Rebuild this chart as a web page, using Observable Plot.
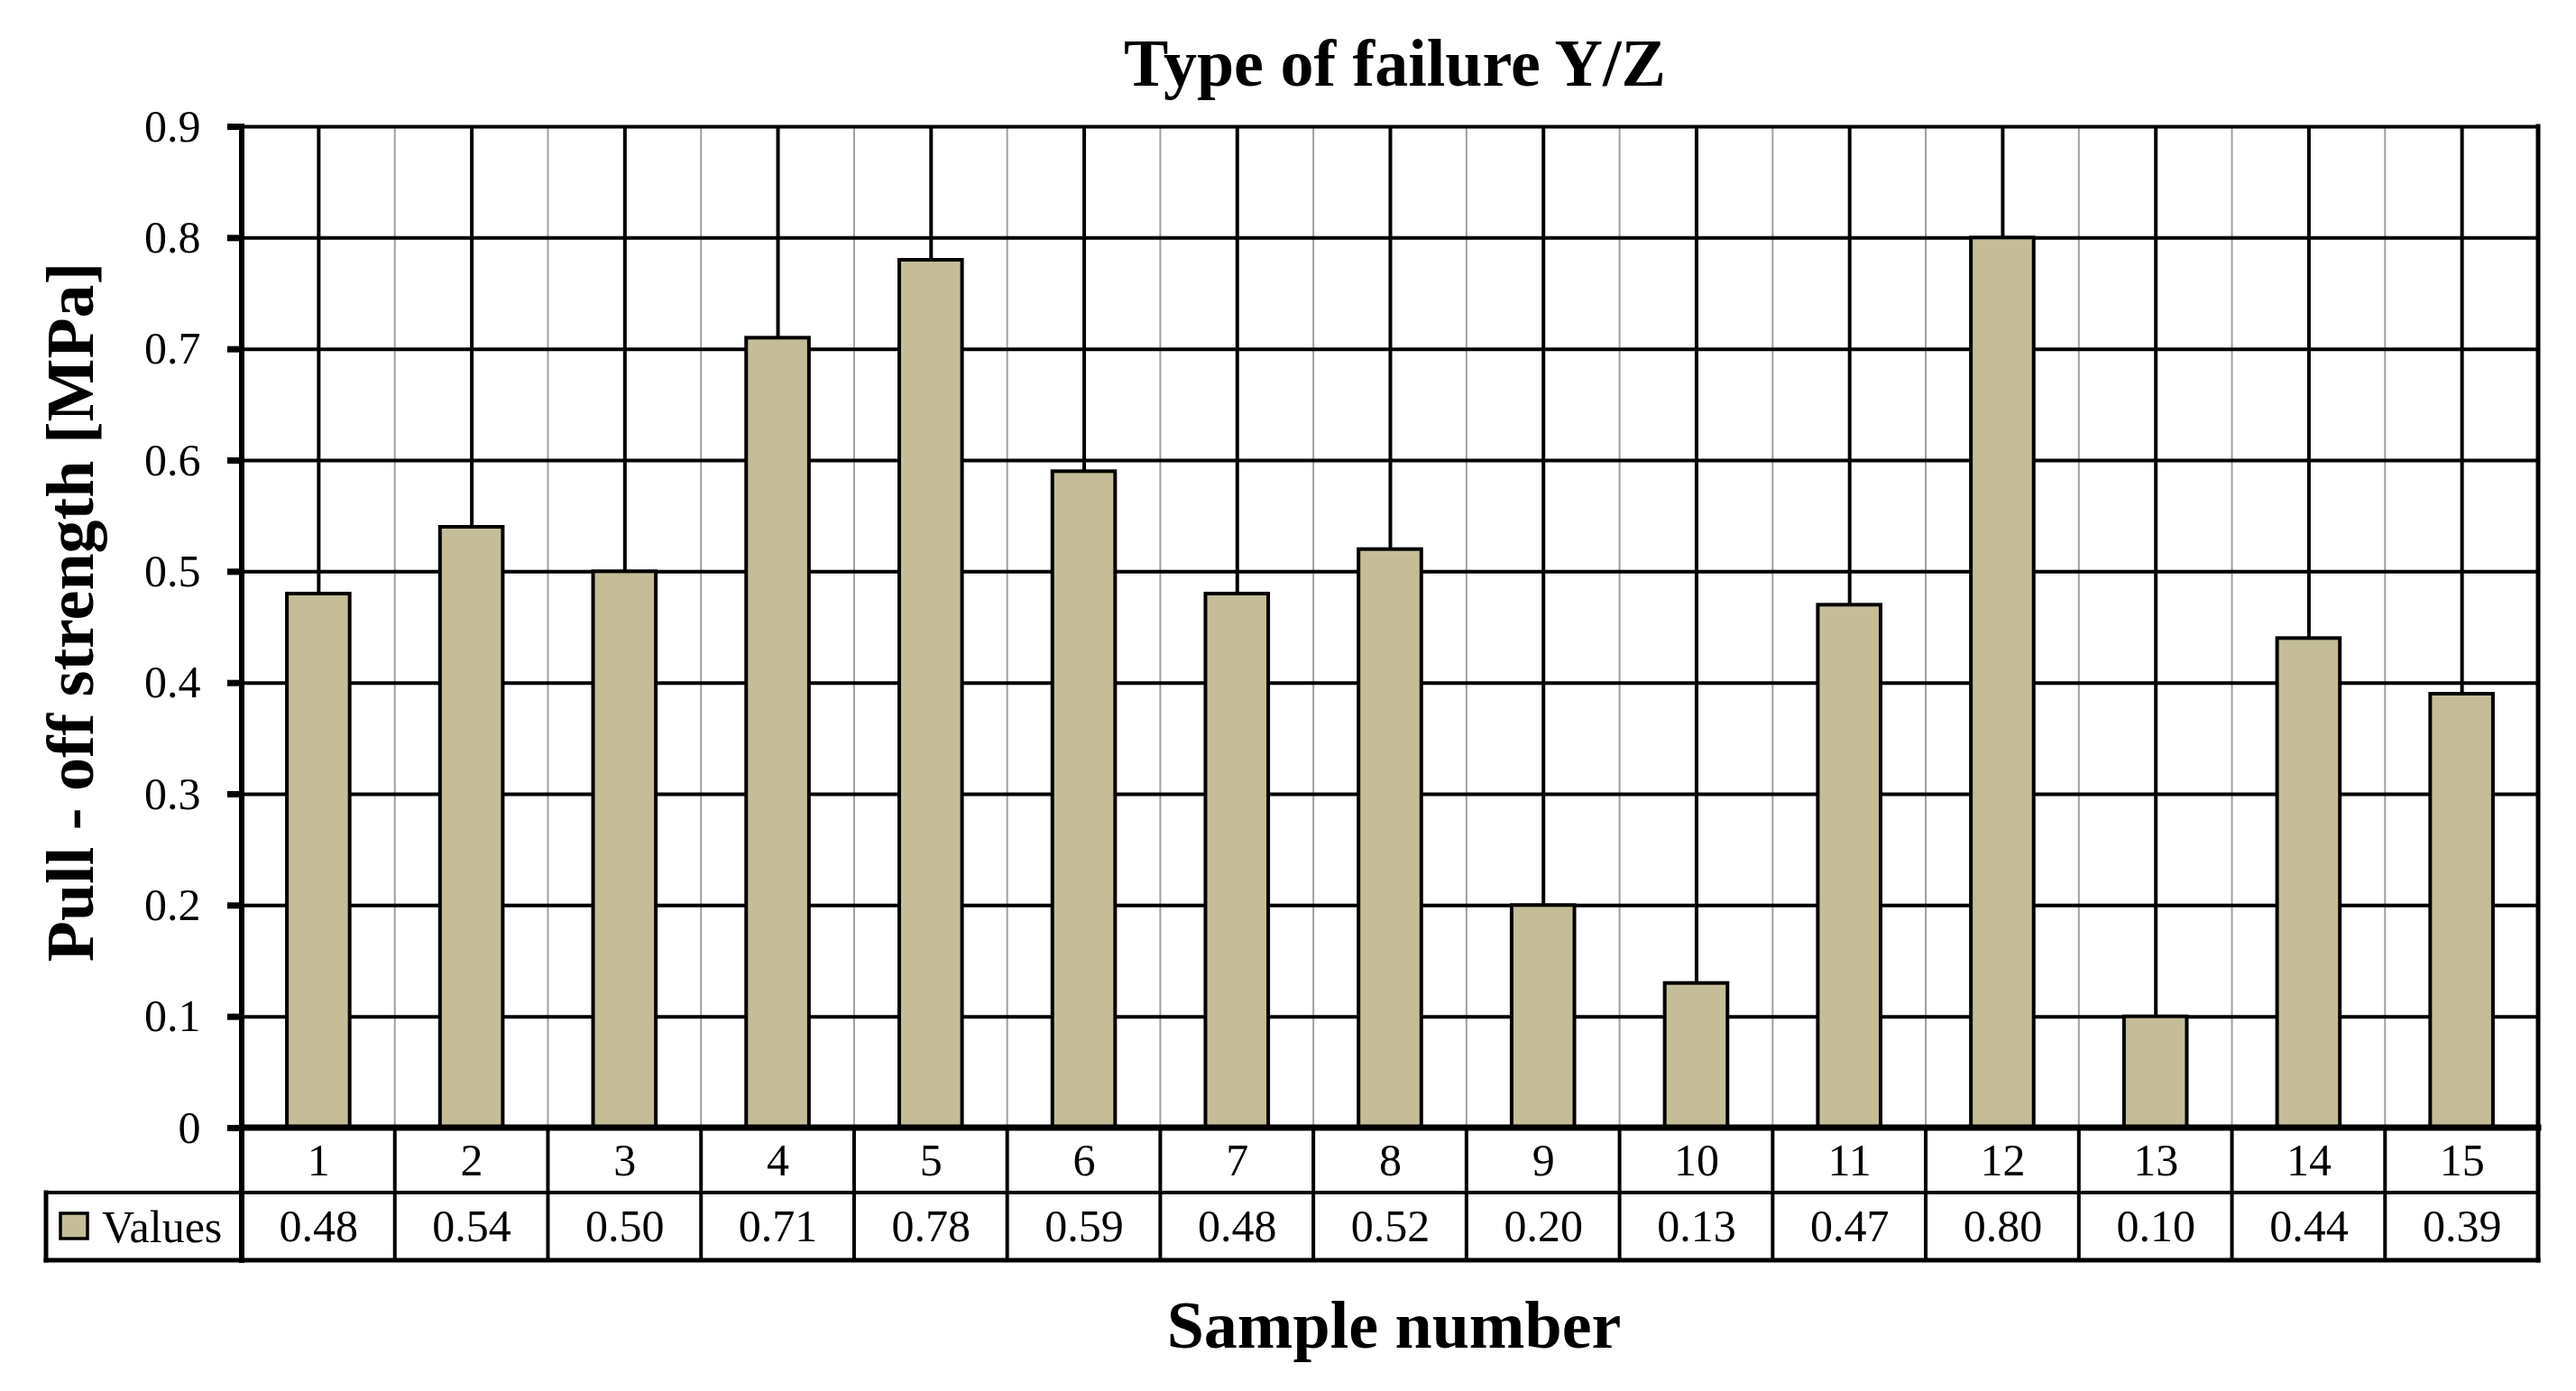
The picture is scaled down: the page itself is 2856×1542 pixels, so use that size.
<!DOCTYPE html>
<html>
<head>
<meta charset="utf-8">
<script src="https://cdn.jsdelivr.net/npm/d3@7"></script>
<script src="https://cdn.jsdelivr.net/npm/@observablehq/plot@0.6"></script>
<style>
  html, body { margin: 0; padding: 0; background: #fff; overflow: hidden; }
  #chart svg { display: block; }
</style>
</head>
<body>
<div id="chart"></div>
<script>
// ---- data ----
const samples = ["1","2","3","4","5","6","7","8","9","10","11","12","13","14","15"];
const values = [0.48, 0.54, 0.50, 0.71, 0.78, 0.59, 0.48, 0.52, 0.20, 0.13, 0.47, 0.80, 0.10, 0.44, 0.39];
const valueLabels = ["0.48","0.54","0.50","0.71","0.78","0.59","0.48","0.52","0.20","0.13","0.47","0.80","0.10","0.44","0.39"];
const yTicks = [0, 0.1, 0.2, 0.3, 0.4, 0.5, 0.6, 0.7, 0.8, 0.9];
const yTickLabels = ["0","0.1","0.2","0.3","0.4","0.5","0.6","0.7","0.8","0.9"];
const chartTitle = "Type of failure Y/Z";
const xTitle = "Sample number";
const yTitle = "Pull - off strength [MPa]";
const seriesName = "Values";

// ---- style ----
const barColor = "#c4bd97";
const font = "'Liberation Serif', 'Times New Roman', serif";
const W = 2856, H = 1542;
const rowH1 = 72, rowH2 = 75, legendLeft = 51;

const data = samples.map((s, i) => ({sample: s, value: values[i], label: valueLabels[i]}));
const yTop = yTicks[yTicks.length - 1];

function bandInfo(x) {
  const step = x(samples[1]) - x(samples[0]);
  const pad = (step - x.bandwidth()) / 2;
  return {step, pad};
}

function line(g, x1, y1, x2, y2, w, color = "black") {
  g.append("line")
    .attr("x1", x1).attr("y1", y1).attr("x2", x2).attr("y2", y2)
    .attr("stroke", color).attr("stroke-width", w).attr("stroke-linecap", "square");
}

// gray lines at category boundaries inside the plot area
function boundaryGrid(index, scales, values, dims) {
  const {x, y} = scales;
  const {pad} = bandInfo(x);
  const g = d3.create("svg:g");
  samples.slice(1).forEach(s => {
    const bx = x(s) - pad;
    g.append("line").attr("x1", bx).attr("x2", bx)
      .attr("y1", y(yTop)).attr("y2", y(0))
      .attr("stroke", "#a0a0a0").attr("stroke-width", 2);
  });
  return g.node();
}

// frame lines and data table below the plot
function tableFrame(index, scales, values, dims) {
  const {x, y} = scales;
  const {pad} = bandInfo(x);
  const g = d3.create("svg:g");
  const left = dims.marginLeft, right = dims.width - dims.marginRight;
  const top = y(0), r1 = top + rowH1, r2 = r1 + rowH2;
  samples.slice(1).forEach(s => line(g, x(s) - pad, top, x(s) - pad, r2, 4));
  line(g, legendLeft, r1, right, r1, 4);
  line(g, legendLeft, r2, right, r2, 5);
  line(g, legendLeft, r1, legendLeft, r2, 5);
  line(g, right, y(yTop), right, r2, 5);
  line(g, left, y(yTop), left, r2, 6);
  line(g, left, top, right, top, 7);
  // legend swatch + name
  g.append("rect").attr("x", 67).attr("y", r1 + 23).attr("width", 30).attr("height", 28)
    .attr("fill", barColor).attr("stroke", "black").attr("stroke-width", 3.5);
  g.append("text").attr("x", 113).attr("y", (r1 + r2) / 2).attr("dy", "0.34em")
    .attr("text-anchor", "start")
    .attr("font-family", font).attr("font-size", 50).attr("fill", "black")
    .text(seriesName);
  return g.node();
}

const chart = Plot.plot({
  width: W,
  height: H,
  marginLeft: 268,
  marginRight: 42,
  marginTop: 140,
  marginBottom: 292,
  style: {fontFamily: font, background: "white", color: "black", overflow: "visible"},
  x: {type: "band", domain: samples, paddingInner: 0.59, paddingOuter: 0.295, round: false, axis: null},
  y: {domain: [0, yTop], axis: null},
  marks: [
    boundaryGrid,
    Plot.ruleX(samples, {x: d => d, stroke: "black", strokeWidth: 4}),
    Plot.ruleY(yTicks, {y: d => d, stroke: "black", strokeWidth: 4}),
    Plot.barY(data, {x: "sample", y: "value", fill: barColor, stroke: "black", strokeWidth: 4}),
    tableFrame,
    Plot.axisY({
      ticks: yTicks,
      tickFormat: d => yTickLabels[yTicks.indexOf(d)],
      tickSize: 16, tickPadding: 30, strokeWidth: 7,
      fontSize: 50, label: null, fill: "black"
    }),
    // table row 1: sample numbers
    Plot.text(data, {x: "sample", text: "sample", frameAnchor: "bottom", dy: rowH1 / 2, lineAnchor: "middle", fontSize: 50, fill: "black"}),
    // table row 2: values
    Plot.text(data, {x: "sample", text: "label", frameAnchor: "bottom", dy: rowH1 + rowH2 / 2, lineAnchor: "middle", fontSize: 50, fill: "black"}),
    // titles
    Plot.text([chartTitle], {frameAnchor: "top", dx: 5, dy: -69, lineAnchor: "middle", textAnchor: "middle", fontSize: 74, fontWeight: "bold", fill: "black"}),
    Plot.text([xTitle], {frameAnchor: "bottom", dx: 4, dy: 220, lineAnchor: "middle", textAnchor: "middle", fontSize: 74, fontWeight: "bold", fill: "black"}),
    Plot.text([yTitle], {frameAnchor: "left", dx: -189, dy: -17, rotate: -90, lineAnchor: "middle", textAnchor: "middle", fontSize: 74, fontWeight: "bold", fill: "black"})
  ]
});

document.getElementById("chart").appendChild(chart);
</script>
</body>
</html>
